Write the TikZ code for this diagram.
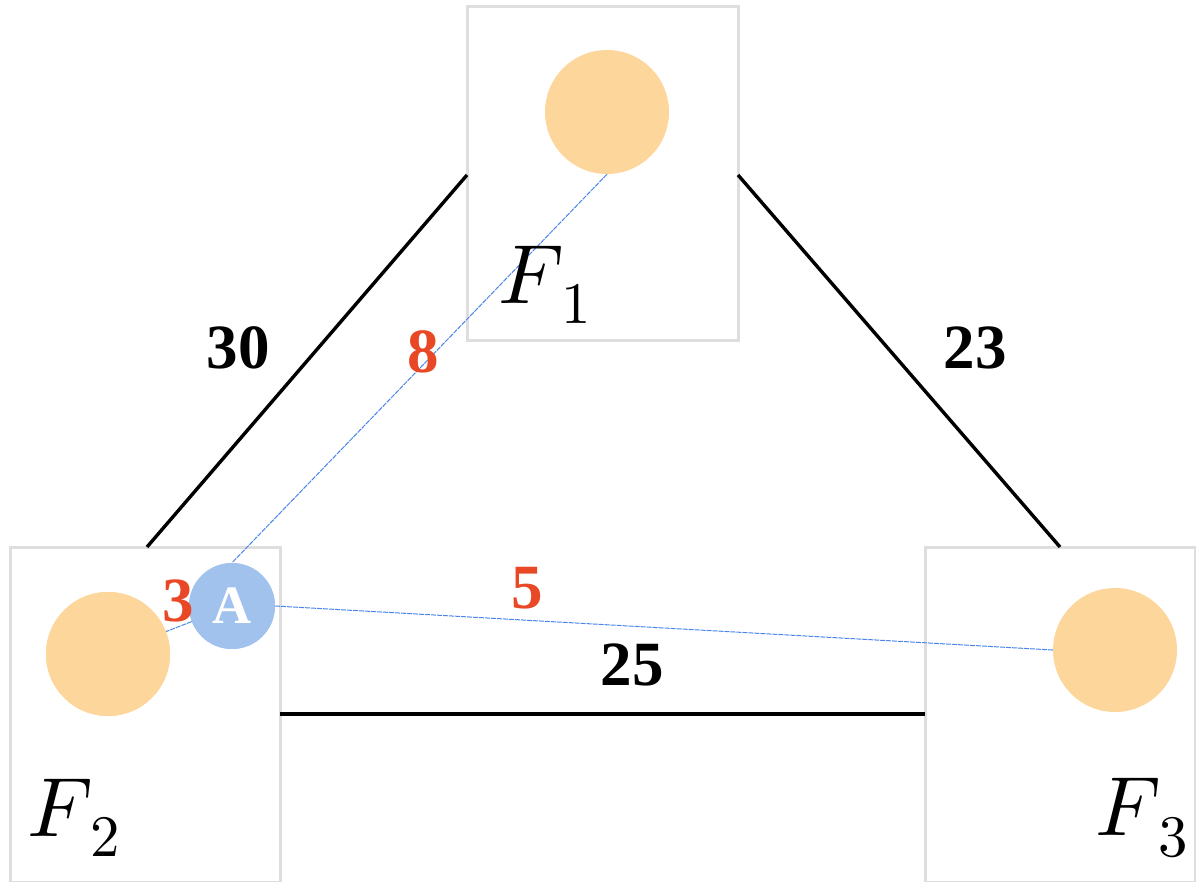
\documentclass[tikz,border=0pt]{standalone}
\usepackage{unicode-math}
\setmainfont{Liberation Serif}
\setmathfont{Latin Modern Math}
\begin{document}
\begin{tikzpicture}[x=1pt,y=-1pt,
  box/.style={draw=black!13,line width=3pt},
  fac/.style={circle,fill=fill1,minimum size=124pt,inner sep=0pt},
  road/.style={line width=3.4pt},
  dpath/.style={draw=blued,dashed,dash pattern=on 5pt off 1pt,line width=1pt},
  num/.style={font=\fontsize{63}{66}\selectfont\bfseries},
  red/.style={num,text=redc},
  flab/.style={font=\fontsize{84}{90}\selectfont},
  anode/.style={circle,fill=bluea,minimum size=86pt,inner sep=0pt,text=white,font=\fontsize{54}{56}\selectfont\bfseries}
]
\definecolor{redc}{HTML}{E84826}
\definecolor{fill1}{HTML}{FDD69B}
\definecolor{bluea}{HTML}{A2C2EE}
\definecolor{blued}{HTML}{4A86E8}
\useasboundingbox (0,0) rectangle (1196,882);
% boxes
\draw[box] (467,7) rectangle (738,341);
\draw[box] (10,547) rectangle (280,882);
\draw[box] (925,547) rectangle (1195,882);
% facilities
\node[fac] (c1) at (607,112) {};
\node[fac] (c2) at (108,654) {};
\node[fac] (c3) at (1115,650) {};
% black roads
\coordinate (r1a) at (147,547); \coordinate (r1b) at (467,175);
\coordinate (r2a) at (738,175); \coordinate (r2b) at (1060,547);
\coordinate (r3a) at (280,714); \coordinate (r3b) at (925,714);
\draw[road] (r1a) -- (r1b);
\draw[road] (r2a) -- (r2b);
\draw[road] (r3a) -- (r3b);
% A
\node[anode] (A) at (232,606) {};
% dashed
\draw[dpath] (c1.south) -- (A.north);
\draw[dpath] (A.east) -- (c3.west);
\draw[dpath] (A) -- (c2);
\node[fac] at (c2) {};
\node[anode] at (A) {\raisebox{-5pt}{A}};
% labels
\node[num] (l30) at (238,348) {30};
\node[num] (l23) at (975,348) {23};
\node[num] (l25) at (632,665) {25};
\node[red] (l8) at (423,352) {8};
\node[red] (l5) at (527,588) {5};
\node[red] (l3) at (178,601) {3};
\node[flab] (f1) at (545,285) {$F_{\,1}$};
\node[flab] (f2) at (74,818) {$F_{\,2}$};
\node[flab] (f3) at (1142,818) {$F_{\,3}$};
\end{tikzpicture}
\end{document}
